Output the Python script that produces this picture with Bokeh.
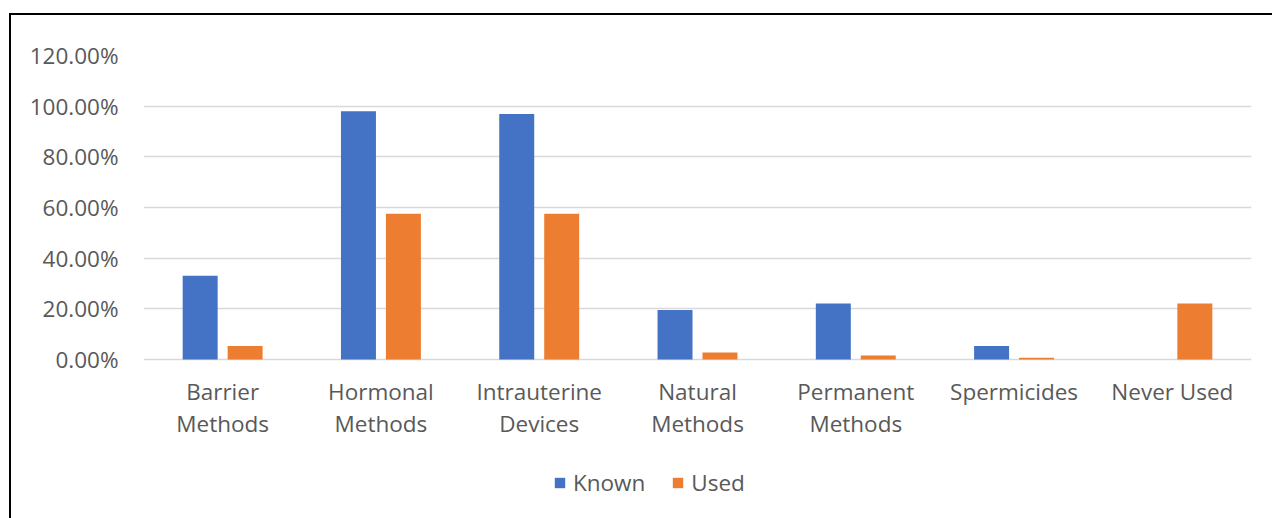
from bokeh.plotting import figure
from bokeh.models import (FactorRange, FixedTicker, PrintfTickFormatter, Legend, LegendItem,
                          ColumnDataSource)
from bokeh.core.properties import value
from bokeh.transform import dodge
from bokeh.embed import file_html
from bokeh.resources import INLINE

# Awareness vs. use of contraceptive methods (percent of respondents)
categories = ["Barrier Methods", "Hormonal Methods", "Intrauterine Devices",
              "Natural Methods", "Permanent Methods", "Spermicides", "Never Used"]
label_line1 = ["Barrier", "Hormonal", "Intrauterine", "Natural", "Permanent",
               "Spermicides", "Never Used"]
label_line2 = ["Methods", "Methods", "Devices", "Methods", "Methods", "", ""]
known = [33.0, 98.0, 96.9, 19.5, 22.1, 5.3, 0.0]
used = [5.3, 57.5, 57.5, 2.7, 1.6, 0.7, 22.1]
y_ticks = [0, 20, 40, 60, 80, 100, 120]

FONT = "Open Sans"
TEXT = "#595959"
GRID = "#d9d9d9"
FS = "22.5px"

source = ColumnDataSource(data=dict(
    cat=categories, known=known, used=used,
    line1=label_line1, line2=label_line2, base=[0] * len(categories),
))

# the frame runs down to the bottom edge so the category names and the legend
# can be drawn inside it, below the zero line
p = figure(
    x_range=FactorRange(*categories, range_padding=0),
    y_range=(-62.8, 120),
    frame_width=1108, frame_height=463,
    x_axis_location=None,
    output_backend="svg", toolbar_location=None,
    min_border_left=132, min_border_right=21, min_border_top=40, min_border_bottom=0,
)
p.margin = (13, 0, 0, 9)
p.styles = {"border-top": "2px solid #000", "border-left": "2px solid #000"}
p.outline_line_color = None
p.background_fill_color = "white"
p.border_fill_color = "white"

r_known = p.vbar(x=dodge("cat", -0.142, range=p.x_range), top="known", width=0.221,
                 source=source, fill_color="#4472C4", line_color=None)
r_used = p.vbar(x=dodge("cat", 0.142, range=p.x_range), top="used", width=0.221,
                source=source, fill_color="#ED7D31", line_color=None)

# grid (the 0% line doubles as the category axis line)
p.xgrid.grid_line_color = None
p.ygrid.grid_line_color = GRID
p.ygrid.grid_line_width = 1.5
p.ygrid.ticker = FixedTicker(ticks=y_ticks)

# y axis
p.yaxis.ticker = FixedTicker(ticks=y_ticks)
p.yaxis.formatter = PrintfTickFormatter(format="%.2f%%")
p.yaxis.axis_line_color = None
p.yaxis.major_tick_line_color = None
p.yaxis.minor_tick_line_color = None
p.yaxis.major_label_standoff = 19
p.yaxis.major_label_text_font = FONT
p.yaxis.major_label_text_font_size = FS
p.yaxis.major_label_text_color = TEXT

# category names, two lines under the zero line
for col, offset in (("line1", 32), ("line2", 64)):
    p.text(x="cat", y="base", text=col, source=source, y_offset=offset,
           text_align="center", text_baseline="middle",
           text_font=value(FONT), text_font_size=value(FS), text_color=TEXT)

legend = Legend(
    items=[LegendItem(label="Known", renderers=[r_known]),
           LegendItem(label="Used", renderers=[r_used])],
    orientation="horizontal", location=(410, 20),
    border_line_color=None, background_fill_alpha=0,
    glyph_width=13, glyph_height=13, label_standoff=7, spacing=26,
    label_text_font=FONT, label_text_font_size=FS, label_text_color=TEXT,
    padding=10, margin=0,
)
p.add_layout(legend, "center")

open("out.html", "w").write(file_html(p, INLINE))
